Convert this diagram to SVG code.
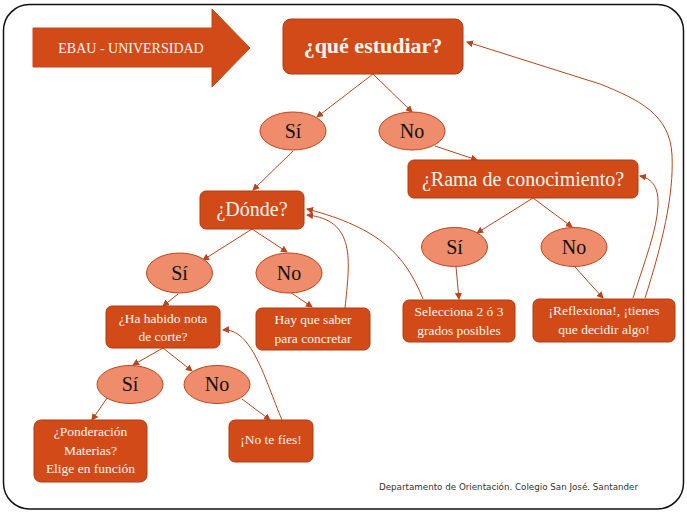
<svg xmlns="http://www.w3.org/2000/svg" width="687" height="517" viewBox="0 0 687 517">
<defs>
<style>
.box{fill:#D14A18;stroke:#B03A12;stroke-width:1}
.ell{fill:#EE8C6B;stroke:#C0441B;stroke-width:1}
.bt{font-family:"Liberation Serif",serif;fill:#FFF6F0;text-anchor:middle}
.et{font-family:"Liberation Serif",serif;fill:#111;text-anchor:middle;font-size:20px}
.c{fill:none;stroke:#B8451C;stroke-width:1;marker-end:url(#ah)}
</style>
<marker id="ah" markerWidth="7" markerHeight="7" refX="6" refY="3.5" orient="auto" markerUnits="userSpaceOnUse">
<path d="M0,0 L7,3.5 L0,7 Z" fill="#B8451C"/>
</marker>
</defs>
<rect x="0" y="0" width="687" height="517" fill="#fff"/>
<rect id="frame" x="3.5" y="4.5" width="680" height="504.5" rx="26" ry="26" fill="none" stroke="#111" stroke-width="1.5"/>

<g id="connectors">
<path class="c" d="M373,74 L317,117"/>
<path class="c" d="M373,74 L412,112"/>
<path class="c" d="M435,146 L477,160"/>
<path class="c" d="M293,151 L253,190"/>
<path class="c" d="M252,229 L203,260"/>
<path class="c" d="M252,229 L287,252"/>
<path class="c" d="M178,294 L163,306"/>
<path class="c" d="M290,292 L312,307"/>
<path class="c" d="M345,308 C350,260 356,220 307,215"/>
<path class="c" d="M423,299 C405,255 380,228 307,209"/>
<path class="c" d="M456,267 L459,299"/>
<path class="c" d="M533,198 L477,233"/>
<path class="c" d="M533,198 L572,227"/>
<path class="c" d="M575,267 L603,298"/>
<path class="c" d="M633,298 C645,260 657,230 658,205 C659,185 650,178 640,176"/>
<path class="c" d="M645,298 C662,245 674,195 672,155 C670,115 640,100 600,84 L467,42"/>
<path class="c" d="M163,348 L133,365"/>
<path class="c" d="M163,348 L192,371"/>
<path class="c" d="M107,398 L92,420"/>
<path class="c" d="M242,399 L270,420"/>
<path class="c" d="M282,420 C265,380 252,328 223,330"/>
</g>

<g id="ebau">
<path d="M33,28 H212 V9 L250,48 L212,87 V67 H33 Z" fill="#D14A18" stroke="#C8461A" stroke-width="1"/>
<text class="bt" x="131" y="53" font-size="14">EBAU - UNIVERSIDAD</text>
</g>

<g id="que-estudiar">
<rect class="box" x="283" y="19" width="180" height="55" rx="8"/>
<text class="bt" x="373" y="53" font-size="22" font-weight="bold">¿qué estudiar?</text>
</g>

<g id="si1"><ellipse class="ell" cx="293" cy="131" rx="33" ry="19"/><text class="et" x="293" y="138">Sí</text></g>
<g id="no1"><ellipse class="ell" cx="412" cy="131" rx="33" ry="19"/><text class="et" x="412" y="138">No</text></g>

<g id="rama">
<rect class="box" x="408" y="160" width="230" height="38" rx="6"/>
<text class="bt" x="523" y="186" font-size="20">¿Rama de conocimiento?</text>
</g>

<g id="donde">
<rect class="box" x="200" y="191" width="104" height="38" rx="6"/>
<text class="bt" x="252" y="216" font-size="20">¿Dónde?</text>
</g>

<g id="si2"><ellipse class="ell" cx="179.5" cy="273" rx="33" ry="20"/><text class="et" x="179.5" y="280">Sí</text></g>
<g id="no2"><ellipse class="ell" cx="289" cy="273" rx="33" ry="20"/><text class="et" x="289" y="280">No</text></g>

<g id="si3"><ellipse class="ell" cx="454.5" cy="247" rx="33" ry="19.5"/><text class="et" x="454.5" y="254">Sí</text></g>
<g id="no3"><ellipse class="ell" cx="574" cy="247" rx="33" ry="19.5"/><text class="et" x="574" y="254">No</text></g>

<g id="nota-corte">
<rect class="box" x="106" y="306" width="114" height="42" rx="6"/>
<text class="bt" x="163" y="323" font-size="13.5">¿Ha habido nota</text>
<text class="bt" x="163" y="341" font-size="13.5">de corte?</text>
</g>

<g id="hay-que-saber">
<rect class="box" x="256" y="308" width="114" height="42" rx="6"/>
<text class="bt" x="313" y="324" font-size="13.5">Hay que saber</text>
<text class="bt" x="313" y="343" font-size="13.5">para concretar</text>
</g>

<g id="selecciona">
<rect class="box" x="403" y="300" width="112" height="42" rx="6"/>
<text class="bt" x="459" y="316" font-size="13.5">Selecciona 2 ó 3</text>
<text class="bt" x="459" y="335" font-size="13.5">grados posibles</text>
</g>

<g id="reflexiona">
<rect class="box" x="533" y="299" width="142" height="43" rx="6"/>
<text class="bt" x="604" y="315" font-size="13.5">¡Reflexiona!, ¡tienes</text>
<text class="bt" x="604" y="334" font-size="13.5">que decidir algo!</text>
</g>

<g id="si4"><ellipse class="ell" cx="130" cy="384.5" rx="33" ry="19"/><text class="et" x="130" y="391">Sí</text></g>
<g id="no4"><ellipse class="ell" cx="217" cy="384.5" rx="33" ry="19"/><text class="et" x="217" y="391">No</text></g>

<g id="ponderacion">
<rect class="box" x="34" y="420" width="113" height="62" rx="7"/>
<text class="bt" x="90.5" y="436" font-size="13.5">¿Ponderación</text>
<text class="bt" x="90.5" y="455" font-size="13.5">Materias?</text>
<text class="bt" x="90.5" y="473" font-size="13.5">Elige en función</text>
</g>

<g id="no-te-fies">
<rect class="box" x="229" y="420" width="84" height="42" rx="6"/>
<text class="bt" x="271" y="444" font-size="13.5">¡No te fíes!</text>
</g>

<text x="379" y="490" font-family="DejaVu Sans, sans-serif" font-size="8.5" fill="#333" textLength="259" lengthAdjust="spacingAndGlyphs">Departamento de Orientación. Colegio San José. Santander</text>
</svg>
